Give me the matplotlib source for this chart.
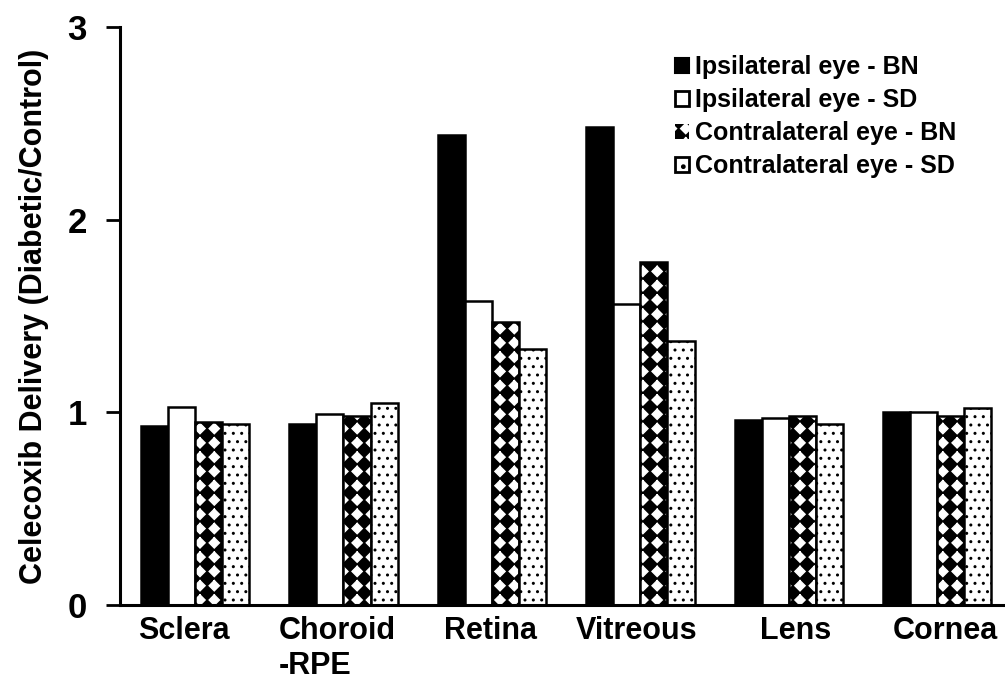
import numpy as np
import matplotlib
matplotlib.use("Agg")
import matplotlib.pyplot as plt
import matplotlib.hatch as mhatch
from matplotlib.path import Path
from matplotlib.patches import Patch

# white diamond pattern for the contralateral BN bars: swap the star hatch for a
# square grid of diamonds
class Diamonds(mhatch.Shapes):
    size = 0.36
    filled = True

    def __init__(self, hatch, density):
        self.num_rows = int(round(hatch.count('*') * density * 1.2))
        path = Path.unit_regular_polygon(4)
        self.shape_vertices = path.vertices
        self.shape_codes = np.full(len(self.shape_vertices), Path.LINETO, dtype=Path.code_type)
        self.shape_codes[0] = Path.MOVETO
        super().__init__(hatch, density)
        self.num_shapes = (self.num_rows + 1) ** 2 if self.num_rows else 0
        self.num_vertices = self.num_shapes * len(self.shape_vertices)

    def set_vertices_and_codes(self, vertices, codes):
        offset = 1.0 / self.num_rows
        shp = self.shape_vertices * offset * self.size
        n = len(shp)
        k = 0
        for row in range(self.num_rows + 1):
            for col in range(self.num_rows + 1):
                vertices[k:k+n] = shp + [col*offset, row*offset]
                codes[k:k+n] = self.shape_codes
                k += n

mhatch._hatch_types = [Diamonds if h is mhatch.Stars else h for h in mhatch._hatch_types]

plt.rcParams['font.family'] = ['Liberation Sans', 'DejaVu Sans']
plt.rcParams['font.weight'] = 'bold'
plt.rcParams['axes.labelweight'] = 'bold'
plt.rcParams['hatch.linewidth'] = 1.0

tissues = ["Sclera", "Choroid\n-RPE", "Retina", "Vitreous", "Lens", "Cornea"]
ipsi_bn = [0.93, 0.94, 2.44, 2.48, 0.96, 1.00]
ipsi_sd = [1.03, 0.99, 1.58, 1.56, 0.97, 1.00]
contra_bn = [0.95, 0.98, 1.47, 1.78, 0.98, 0.98]
contra_sd = [0.94, 1.05, 1.33, 1.37, 0.94, 1.02]
series_names = ["Ipsilateral eye - BN", "Ipsilateral eye - SD",
                "Contralateral eye - BN", "Contralateral eye - SD"]
label_shift = [-0.074, -0.04, -0.007, -0.024, 0.047, 0.054]

x = np.arange(len(tissues))
w = 0.182
lw = 1.8

fig = plt.figure(figsize=(10.05, 6.82), dpi=100)
ax = fig.add_axes([0.1194, 0.1129, 0.8806, 0.8475])

ax.bar(x - 1.5*w, ipsi_bn, w, color='black', edgecolor='black', linewidth=lw)
ax.bar(x - 0.5*w, ipsi_sd, w, color='white', edgecolor='black', linewidth=lw)
ax.bar(x + 0.5*w, contra_bn, w, color='black', edgecolor='white', linewidth=0, hatch='*')
ax.bar(x + 0.5*w, contra_bn, w, color='none', edgecolor='black', linewidth=lw)
ax.bar(x + 1.5*w, contra_sd, w, color='white', edgecolor='black', linewidth=0, hatch='..')
ax.bar(x + 1.5*w, contra_sd, w, color='none', edgecolor='black', linewidth=lw)

ax.set_xlim(-0.505, 5.455)
ax.set_ylim(0, 3)
ax.set_yticks([0, 1, 2, 3])
ax.tick_params(axis='y', labelsize=25, length=10, width=2, direction='out', pad=14)
ax.set_xticks(x + np.array(label_shift))
ax.set_xticklabels(tissues, fontsize=22, multialignment='left')
ax.tick_params(axis='x', length=0, pad=8)
ax.set_ylabel("Celecoxib Delivery (Diabetic/Control)", fontsize=22)
ax.yaxis.set_label_coords(-0.08, 0.5)

for s in ['top', 'right']:
    ax.spines[s].set_visible(False)
ax.spines['left'].set_linewidth(2.2)
ax.spines['bottom'].set_linewidth(2.2)

handles = [Patch(facecolor='black', edgecolor='black', linewidth=1.5),
           Patch(facecolor='white', edgecolor='black', linewidth=2),
           Patch(facecolor='black', edgecolor='white', linewidth=0, hatch='*'),
           Patch(facecolor='white', edgecolor='black', linewidth=2, hatch='.')]
ax.legend(handles, series_names, loc='upper right', bbox_to_anchor=(0.965, 0.9815),
          frameon=False, fontsize=18, handlelength=0.55, handleheight=0.55,
          handletextpad=0.25, labelspacing=0.36, borderpad=0.2)

fig.savefig("out.png", dpi=100)
